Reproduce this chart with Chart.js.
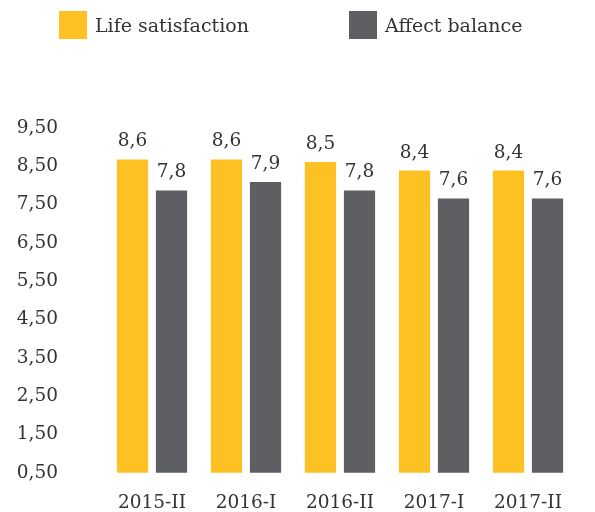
<!DOCTYPE html>
<html>
<head>
<meta charset="utf-8">
<script src="https://cdn.jsdelivr.net/npm/chart.js@4/dist/chart.umd.min.js"></script>
<style>
  html, body { margin: 0; padding: 0; background: #fff; overflow: hidden; }
  #wrap { position: relative; width: 595px; height: 512px; overflow: hidden; }
  canvas { position: absolute; left: 0; top: 0; }
  .lg { position: absolute; top: 11px; height: 28px; display: flex; align-items: center;
        font-family: "DejaVu Serif", serif; font-size: 19px; color: #333; white-space: nowrap; }
  .lg .box { width: 28px; height: 28px; margin-right: 8px; }
</style>
</head>
<body>
<div id="wrap">
  <canvas id="c" width="595" height="533"></canvas>
  <div class="lg" style="left:59px"><div class="box" style="background:#FDC124"></div><span id="lg0"></span></div>
  <div class="lg" style="left:349px"><div class="box" style="background:#5E5F63"></div><span id="lg1"></span></div>
</div>
<script>
const categories = ["2015-II", "2016-I", "2016-II", "2017-I", "2017-II"];
const seriesNames = ["Life satisfaction", "Affect balance"];
const lifeSatisfaction = [8.68, 8.68, 8.61, 8.39, 8.39];
const affectBalance = [7.87, 8.09, 7.87, 7.66, 7.66];
const lifeSatisfactionLabels = ["8,6", "8,6", "8,5", "8,4", "8,4"];
const affectBalanceLabels = ["7,8", "7,9", "7,8", "7,6", "7,6"];
const yTicks = [0.5, 1.5, 2.5, 3.5, 4.5, 5.5, 6.5, 7.5, 8.5, 9.5];

document.getElementById('lg0').textContent = seriesNames[0];
document.getElementById('lg1').textContent = seriesNames[1];

const FONT = "DejaVu Serif";
const TXT = "#333333";
const valueLabels = [lifeSatisfactionLabels, affectBalanceLabels];

const labelPlugin = {
  id: 'valueLabels',
  afterDatasetsDraw(chart) {
    const ctx = chart.ctx;
    ctx.save();
    ctx.font = "18.5px '" + FONT + "'";
    ctx.fillStyle = TXT;
    ctx.textAlign = 'center';
    ctx.textBaseline = 'alphabetic';
    chart.data.datasets.forEach((ds, di) => {
      chart.getDatasetMeta(di).data.forEach((el, i) => {
        ctx.fillText(valueLabels[di][i], el.x, el.y - 13);
      });
    });
    ctx.restore();
  }
};

new Chart(document.getElementById('c'), {
  type: 'bar',
  data: {
    labels: categories,
    datasets: [
      { label: seriesNames[0], data: lifeSatisfaction, backgroundColor: '#FDC124',
        categoryPercentage: 0.83, barPercentage: 0.8 },
      { label: seriesNames[1], data: affectBalance, backgroundColor: '#5E5F63',
        categoryPercentage: 0.83, barPercentage: 0.8 }
    ]
  },
  options: {
    responsive: false,
    animation: false,
    devicePixelRatio: 1,
    layout: { padding: { left: 0, right: 20, top: 128, bottom: 0 } },
    plugins: { legend: { display: false }, tooltip: { enabled: false } },
    scales: {
      x: {
        grid: { display: false, drawTicks: false },
        border: { display: false },
        ticks: { color: TXT, font: { family: FONT, size: 18.5 }, padding: 19, maxRotation: 0 }
      },
      y: {
        min: 0.5, max: 9.5,
        grid: { display: false, drawTicks: false },
        border: { display: false },
        afterBuildTicks(s) { s.ticks = yTicks.map(v => ({ value: v })); },
        ticks: {
          color: TXT, font: { family: FONT, size: 18.5 }, padding: 47,
          callback: v => Number(v).toFixed(2).replace('.', ',')
        },
        afterFit(s) { s.width = 105; }
      }
    }
  },
  plugins: [labelPlugin]
});
</script>
</body>
</html>
